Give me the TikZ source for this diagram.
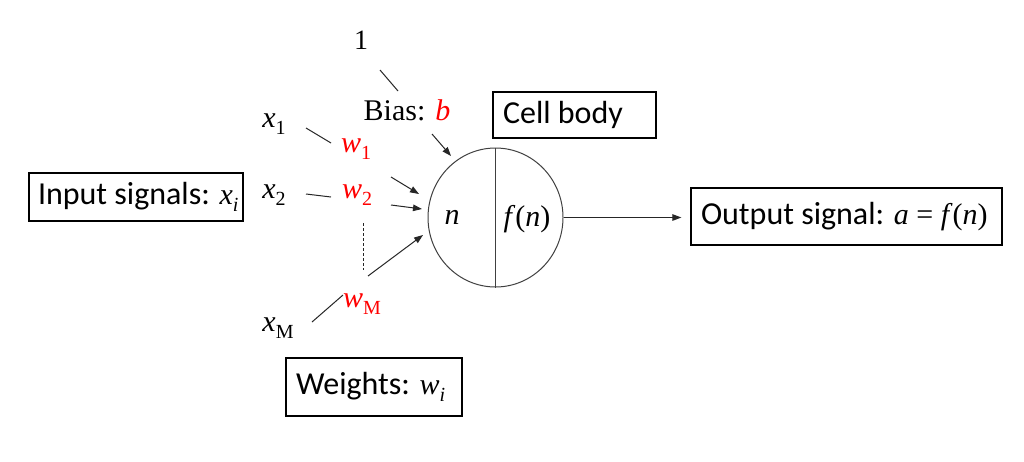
\documentclass[tikz,border=0pt]{standalone}
\usepackage{fontspec}
\setmainfont{Liberation Serif}
\newfontfamily\calib{Carlito}
\usetikzlibrary{shapes.geometric,arrows.meta}
\newcommand\mysub[1]{\raisebox{-7pt}{\fontsize{20}{20}\selectfont #1}}
\newcommand\tm[1]{{\rmfamily\fontsize{30}{36}\selectfont #1}}
\begin{document}
\begin{tikzpicture}[x=1pt,y=-1pt,
  every node/.style={inner sep=0pt, font=\fontsize{30}{36}\selectfont},
  box/.style={draw, line width=1.2pt, inner ysep=0pt, inner xsep=10pt,
    font=\calib\fontsize{32}{38}\selectfont},
  wire/.style={line width=1pt, draw=black!85},
  arr/.style={wire, -{Triangle[length=9pt,width=6.5pt]}},
  wt/.style={text=red}]
\useasboundingbox (0,0) rectangle (1024,461);
\fill[white] (0,0) rectangle (1024,461);

% boxes
\node[box, minimum height=48pt, inner xsep=9pt] (input) at (136,197)
  {\makebox[196pt][l]{Input signals: \tm{\textit{x}\mysub{\textit{i}}}}};
\node[box, minimum height=46pt] (cell) at (574.5,115) {\makebox[143pt][l]{Cell body}};
\node[box, minimum height=58pt] (weights) at (374,387)
  {\makebox[156pt][l]{Weights: \tm{\textit{w}\mysub{\textit{i}}}}};
\node[box, minimum height=57pt] (out) at (846.5,216.5)
  {\makebox[291pt][l]{Output signal: \tm{\textit{a} = \textit{f}(\textit{n})}}};

% neuron
\node[ellipse, draw=black!75, line width=1pt, minimum width=135pt, minimum height=139pt] (neuron) at (495.5,217.5) {};
\draw[line width=1pt, draw=black!75] (neuron.north) -- (neuron.south);
\node (n) at (452,217) {\textit{n}};
\node (fn) at (527,219) {\textit{f}(\textit{n})};

% labels
\node (one) at (361,40) {\fontsize{28}{32}\selectfont 1};
\node (bias) at (407,110) {Bias: \textcolor{red}{\textit{b}}};
\node (x1) at (274,124) {\textit{x}\mysub{1}};
\node[wt] (w1) at (356,149) {\textit{w}\mysub{1}};
\node (x2) at (274,195) {\textit{x}\mysub{2}};
\node[wt] (w2) at (357,195) {\textit{w}\mysub{2}};
\node[wt] (wM) at (362,304) {\textit{w}\mysub{M}};
\node (xM) at (278,328) {\textit{x}\mysub{M}};

% connectors
\draw[wire] ([shift={(19,30)}]one.center) -- ([shift={(-9,-19)}]bias.center);
\draw[arr] ([shift={(25,24)}]bias.center) -- ([shift={(-44.5,-61.5)}]neuron.center);
\draw[wire] ([shift={(32,4)}]x1.center) -- ([shift={(-25,-6)}]w1.center);
\draw[arr] ([shift={(35,28)}]w1.center) -- ([shift={(-76.5,-23.5)}]neuron.center);
\draw[wire] ([shift={(32,-1)}]x2.center) -- ([shift={(-26,2)}]w2.center);
\draw[arr] ([shift={(34,10)}]w2.center) -- ([shift={(-73.5,-8.5)}]neuron.center);
\draw[wire, dash pattern=on 3pt off 2pt] ([shift={(6,28)}]w2.center) -- ([shift={(1,-34)}]wM.center);
\draw[arr] ([shift={(6,-28)}]wM.center) -- ([shift={(-72.5,17.5)}]neuron.center);
\draw[wire] ([shift={(34,-6)}]xM.center) -- ([shift={(-19,-9)}]wM.center);
\draw[arr, shorten >=9pt] (neuron.east) -- (neuron.east -| out.west);
\end{tikzpicture}
\end{document}
